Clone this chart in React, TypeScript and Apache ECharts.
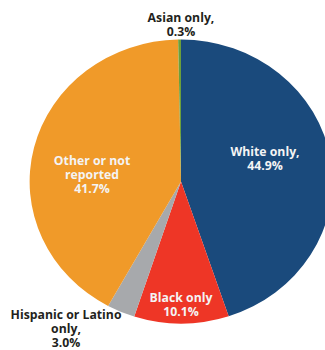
import React, { useEffect, useRef } from "react";
import * as echarts from "echarts";

const categories = ["White only,", "Black only", "Hispanic or Latino\nonly,", "Other or not\nreported", "Asian only,"];
const values = [44.9, 10.1, 3.0, 41.7, 0.3];
const colors = ["#1a4a7c", "#ee3626", "#a7a9ac", "#f09a29", "#6c9f3a"];
const insideLabel = [true, true, false, true, false];

// the reference pie is slightly wider than tall
const STRETCH = 1.066;
// label anchor positions (x, y) in page pixels for each slice label
const labelPos: [number, number][] = [
  [265, 158],
  [181, 304],
  [66, 328.5],
  [92, 174],
  [181, 24],
];

export default function App() {
  const ref = useRef<HTMLDivElement>(null);
  useEffect(() => {
    document.body.style.margin = "0";
    const chart = echarts.init(ref.current!, null, { renderer: "svg" });
    chart.setOption({
      animation: false,
      series: [
        {
          type: "pie",
          center: [181 / STRETCH, 181.5],
          radius: 142,
          startAngle: 90,
          clockwise: true,
          avoidLabelOverlap: false,
          labelLine: { show: false },
          label: {
            fontFamily: "Open Sans",
            fontWeight: "bold",
            fontSize: 11.5,
            lineHeight: 14,
            align: "center",
            formatter: (p: any) => `${p.name}\n${p.value.toFixed(1)}%`,
          },
          labelLayout: (p: any) => ({
            x: labelPos[p.dataIndex][0] / STRETCH,
            y: labelPos[p.dataIndex][1],
            align: "center",
            verticalAlign: "middle",
          }),
          data: categories.map((c, i) => ({
            name: c,
            value: values[i],
            itemStyle: { color: colors[i] },
            label: {
              position: insideLabel[i] ? "inside" : "outside",
              color: insideLabel[i] ? "#f4f4f4" : "#231f20",
            },
          })),
        },
      ],
    });
    return () => chart.dispose();
  }, []);
  return (
    <div style={{ width: 325, height: 350, overflow: "hidden", position: "relative" }}>
      <div
        ref={ref}
        style={{
          width: Math.ceil(325 / STRETCH),
          height: 350,
          transform: `scaleX(${STRETCH})`,
          transformOrigin: "0 0",
        }}
      />
    </div>
  );
}
